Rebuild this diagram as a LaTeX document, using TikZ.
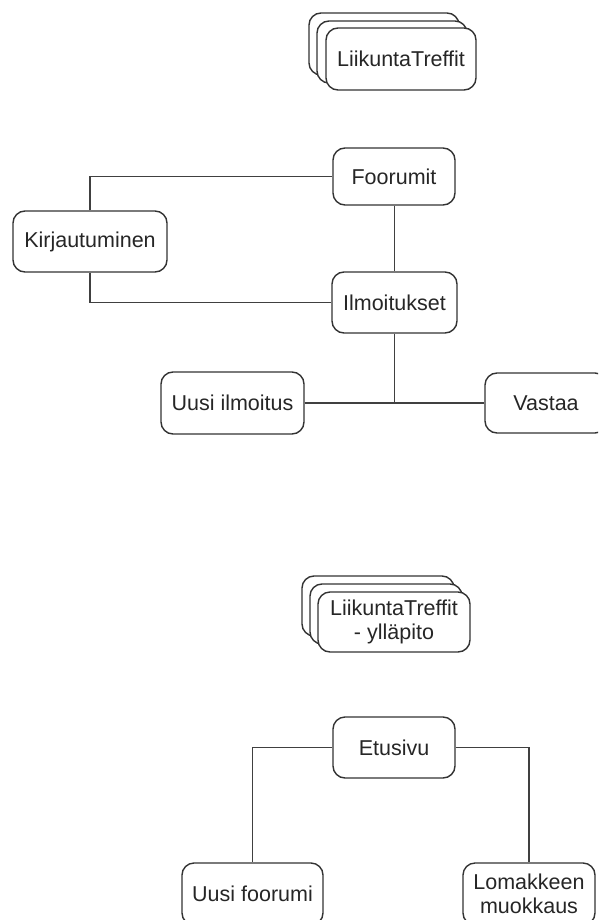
\documentclass[tikz,border=0pt]{standalone}
\usepackage{fontspec}
\setmainfont{Liberation Sans}
\begin{document}
\begin{tikzpicture}[x=1pt,y=-1pt,
  box/.style={draw=black!80, line width=1.4pt, fill=white, rounded corners=12pt,
    inner sep=0pt, align=center, text=black!85, font=\fontsize{21.5}{25}\selectfont},
  conn/.style={draw=black!75, line width=1.4pt}]
\useasboundingbox (0,0) rectangle (598,920);
\clip (0,0) rectangle (598,920);
% stack 1
\node[box, minimum width=150pt, minimum height=62pt] (s1c) at (384,44) {};
\node[box, minimum width=150pt, minimum height=62pt] (s1b) at (392,52) {};
\node[box, minimum width=150pt, minimum height=62pt] (s1a) at (401,59) {LiikuntaTreffit};
% upper diagram
\node[box, minimum width=122pt, minimum height=57pt] (foor) at (394,176.5) {Foorumit};
\node[box, minimum width=154pt, minimum height=61pt] (kirj) at (90,241.5) {Kirjautuminen};
\node[box, minimum width=125pt, minimum height=61pt] (ilm) at (394.5,302.5) {Ilmoitukset};
\node[box, minimum width=143pt, minimum height=62pt] (uusi) at (232.5,403) {Uusi ilmoitus};
\node[box, minimum width=122pt, minimum height=60pt] (vast) at (546,403) {Vastaa};
\coordinate (junc) at (394.5,403);
\draw[conn] (kirj.north) |- (foor.west);
\draw[conn] (kirj.south) |- (ilm.west);
\draw[conn] (foor.south -| ilm.north) -- (ilm.north);
\draw[conn] (ilm.south) -- (junc);
\draw[conn] (uusi.east) -- (vast.west);
% stack 2
\node[box, minimum width=152pt, minimum height=60pt] (s2c) at (378,606) {};
\node[box, minimum width=152pt, minimum height=60pt] (s2b) at (386,614) {};
\node[box, minimum width=152pt, minimum height=60pt] (s2a) at (394,622) {LiikuntaTreffit\\[-1pt]- ylläpito};
% lower diagram
\node[box, minimum width=122pt, minimum height=61pt] (etu) at (394,747.5) {Etusivu};
\node[box, minimum width=141pt, minimum height=62pt] (uf) at (252.5,894) {Uusi foorumi};
\node[box, minimum width=132pt, minimum height=62pt] (lm) at (529,894) {Lomakkeen\\[-1pt]muokkaus};
\draw[conn] (etu.west) -| (uf.north);
\draw[conn] (etu.east) -| (lm.north);
\end{tikzpicture}
\end{document}
